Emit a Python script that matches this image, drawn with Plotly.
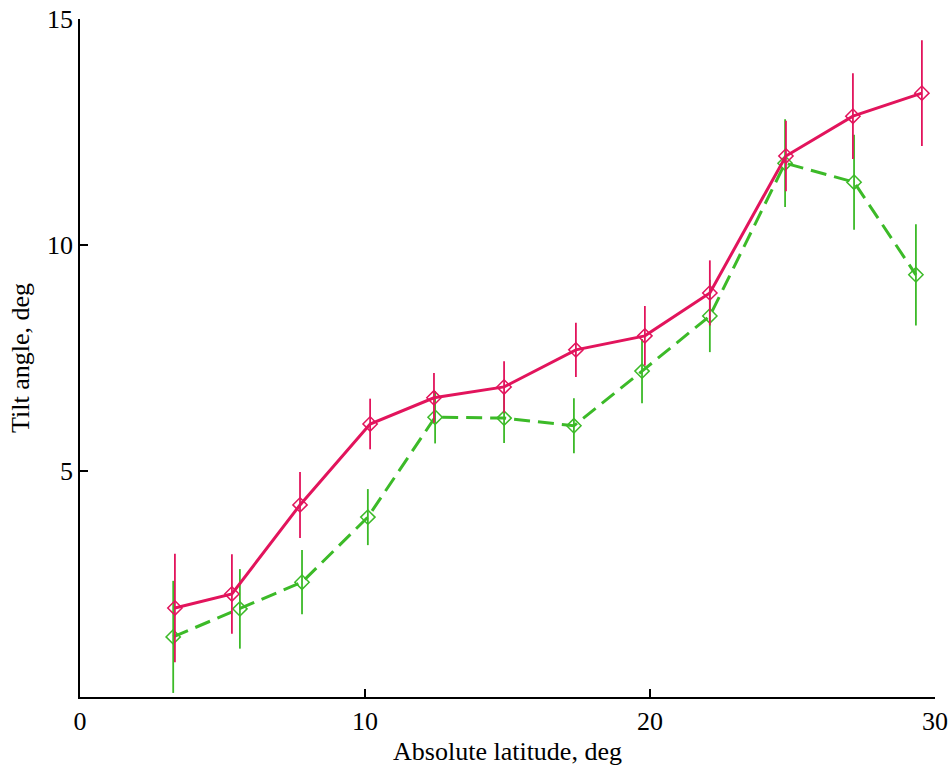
import plotly.graph_objects as go

# Data
red_x = [3.33, 5.33, 7.72, 10.18, 12.42, 14.88, 17.40, 19.82, 22.10, 24.77, 27.12, 29.54]
red_y = [1.97, 2.28, 4.25, 6.04, 6.62, 6.86, 7.68, 7.99, 8.94, 11.97, 12.85, 13.36]
red_err = [1.20, 0.88, 0.73, 0.56, 0.55, 0.57, 0.60, 0.66, 0.72, 0.78, 0.95, 1.17]

green_x = [3.27, 5.61, 7.79, 10.10, 12.46, 14.88, 17.33, 19.72, 22.10, 24.74, 27.16, 29.33]
green_y = [1.33, 1.95, 2.54, 3.98, 6.19, 6.17, 6.00, 7.21, 8.43, 11.81, 11.39, 9.34]
green_err = [1.24, 0.88, 0.71, 0.62, 0.58, 0.55, 0.61, 0.71, 0.80, 0.97, 1.05, 1.12]

x_ticks = [0, 10, 20, 30]
y_ticks = [5, 10, 15]

RED = "#e2145c"
GREEN = "#3cba28"

fig = go.Figure()
fig.add_trace(go.Scatter(
    x=green_x, y=green_y, mode="lines+markers",
    line=dict(color=GREEN, width=3, dash="16px,8px"),
    marker=dict(symbol="diamond-open", size=11, color=GREEN, line=dict(width=1.5, color=GREEN)),
    error_y=dict(type="data", array=green_err, visible=True, width=0, thickness=1.8, color=GREEN),
    showlegend=False,
))
fig.add_trace(go.Scatter(
    x=red_x, y=red_y, mode="lines+markers",
    line=dict(color=RED, width=3),
    marker=dict(symbol="diamond-open", size=11, color=RED, line=dict(width=1.5, color=RED)),
    error_y=dict(type="data", array=red_err, visible=True, width=0, thickness=1.8, color=RED),
    showlegend=False,
))

font_family = "Liberation Serif, Times New Roman, serif"
fig.update_layout(
    width=949, height=766,
    margin=dict(l=80, r=14, t=19, b=69, autoexpand=False),
    paper_bgcolor="white", plot_bgcolor="white",
    font=dict(family=font_family, size=26, color="black"),
    xaxis=dict(
        range=[0, 30], tickvals=x_ticks, ticktext=[str(v) for v in x_ticks],
        showgrid=False, zeroline=False, showline=True, linecolor="black", linewidth=1.5,
        ticks="inside", ticklen=8, tickwidth=1.5, tickcolor="black", automargin=False,
        title=dict(text="Absolute latitude, deg", font=dict(size=26), standoff=8),
        tickfont=dict(size=26),
    ),
    yaxis=dict(
        range=[0, 15], tickvals=y_ticks, ticktext=[str(v) for v in y_ticks],
        showgrid=False, zeroline=False, showline=True, linecolor="black", linewidth=1.5,
        ticks="inside", ticklen=8, tickwidth=1.5, tickcolor="black", automargin=False,
        title=dict(text="Tilt angle, deg", font=dict(size=26), standoff=10),
        tickfont=dict(size=26),
    ),
)

fig.write_html("out.html")
